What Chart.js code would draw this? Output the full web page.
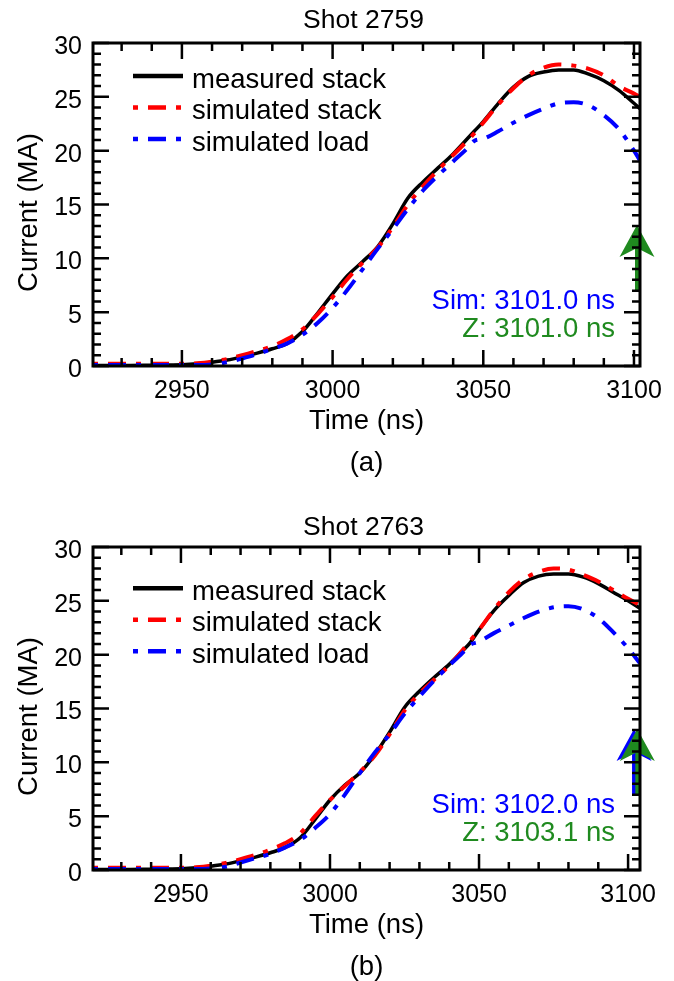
<!DOCTYPE html>
<html><head><meta charset="utf-8">
<script src="https://cdn.jsdelivr.net/npm/chart.js@4.4.1/dist/chart.umd.min.js"></script>
<style>
html,body{margin:0;padding:0;background:#fff;}
#wrap{width:674px;height:981px;position:relative;overflow:hidden;}
.box{position:absolute;left:0;width:674px;}
</style></head><body>
<div id="wrap">
<div class="box" style="top:0;height:504px"><canvas id="c1"></canvas></div>
<div class="box" style="top:504px;height:477px"><canvas id="c2"></canvas></div>
</div>
<script>
// ---------- data ----------
const xTickValues = [2950, 3000, 3050, 3100];
const yTickValues = [0, 5, 10, 15, 20, 25, 30];
const legendLabels = ['measured stack', 'simulated stack', 'simulated load'];

const time2759 = [2920.5,2930,2940,2950,2955,2960,2965,2970,2975,2980,2985,2990,2995,3000,3005,3010,3015,3020,3025,3030,3035,3040,3045,3047,3050,3055,3060,3065,3070,3075,3080,3085,3090,3095,3100,3102];
const measured2759 = [0.05,0.05,0.08,0.12,0.2,0.35,0.55,0.85,1.2,1.6,2.1,3.2,4.9,6.7,8.4,9.7,11.1,13.2,15.6,17.1,18.4,19.7,21.2,21.8,22.7,24.4,25.9,26.9,27.3,27.5,27.5,27.1,26.5,25.6,24.4,23.9];
const simStack2759 = [0.2,0.2,0.2,0.2,0.25,0.4,0.65,1.0,1.4,1.85,2.5,3.4,4.8,6.4,8.1,9.6,11.0,12.9,15.0,16.7,18.2,19.6,21.0,21.6,22.6,24.3,25.8,27.0,27.7,28.0,27.9,27.6,27.0,26.0,25.3,25.0];
const simLoad2759 = [0.1,0.1,0.1,0.1,0.1,0.15,0.35,0.7,1.1,1.6,2.1,2.9,4.0,5.4,7.1,9.0,10.9,12.7,14.6,16.3,17.7,19.0,20.3,20.9,21.1,21.8,22.6,23.3,23.9,24.4,24.5,24.2,23.3,22.0,20.0,19.1];

const time2763 = [2920.5,2930,2940,2950,2955,2960,2965,2970,2975,2980,2985,2990,2995,3000,3005,3010,3015,3020,3025,3030,3035,3040,3045,3047,3050,3055,3060,3065,3070,3075,3080,3085,3090,3095,3100,3104];
const measured2763 = [0.05,0.05,0.08,0.12,0.2,0.35,0.55,0.85,1.2,1.6,2.1,3.0,4.7,6.5,7.9,9.0,10.7,12.8,15.1,16.6,17.9,19.1,20.5,21.1,22.3,24.1,25.5,26.7,27.3,27.5,27.5,27.2,26.6,25.8,25.0,24.3];
const simStack2763 = [0.2,0.2,0.2,0.2,0.25,0.4,0.65,1.0,1.4,1.9,2.5,3.4,5.0,6.5,7.8,9.1,10.6,12.6,14.8,16.4,17.7,19.0,20.6,21.3,22.3,24.2,25.8,27.0,27.7,28.0,27.9,27.4,26.8,26.0,25.2,24.6];
const simLoad2763 = [0.1,0.1,0.1,0.1,0.1,0.15,0.3,0.7,1.1,1.5,2.1,2.8,3.9,5.2,7.0,9.0,10.9,12.6,14.5,16.1,17.6,19.0,20.3,20.9,21.2,22.0,22.7,23.4,24.0,24.4,24.5,24.2,23.4,22.1,20.6,19.2];

const arrowRange = [7.0, 13.1]; // current (MA) span of the timing arrows
// ---------- styles ----------
const FONT = '"Liberation Sans", Arial, Helvetica, sans-serif';
const COL = {meas:'#000000', stack:'#ff0000', load:'#0000ff', z:'#1f8a1f'};
const DASH = [5, 10, 18, 10];
Chart.defaults.font.family = FONT;
Chart.defaults.color = '#000';

const figurePlugin = {
  id: 'figure',
  afterDatasetsDraw(chart, args, o) {
    const ctx = chart.ctx, ca = chart.chartArea, xs = chart.scales.x, ys = chart.scales.y;
    o.arrows.forEach(a => {
      const x = xs.getPixelForValue(a.t);
      const yb = ys.getPixelForValue(arrowRange[0]);
      const yt = ys.getPixelForValue(arrowRange[1]);
      ctx.save();
      ctx.strokeStyle = a.color; ctx.fillStyle = a.color; ctx.lineWidth = 4;
      ctx.beginPath(); ctx.moveTo(x, yb); ctx.lineTo(x, yt + 20); ctx.stroke();
      ctx.beginPath();
      ctx.moveTo(x, yt); ctx.lineTo(x + 17.5, yt + 32); ctx.lineTo(x, yt + 23);
      ctx.lineTo(x - 17.5, yt + 32); ctx.closePath(); ctx.fill();
      ctx.restore();
    });
    ctx.save();
    ctx.strokeStyle = '#000'; ctx.lineWidth = 3;
    ctx.strokeRect(ca.left, ca.top, ca.right - ca.left, ca.bottom - ca.top);
    ctx.lineWidth = 2.5;
    ctx.beginPath();
    for (let t = Math.ceil(xs.min / 10) * 10; t <= xs.max; t += 10) {
      const px = xs.getPixelForValue(t);
      const L = (t % 50 === 0) ? 16 : 8;
      ctx.moveTo(px, ca.bottom); ctx.lineTo(px, ca.bottom - L);
      ctx.moveTo(px, ca.top); ctx.lineTo(px, ca.top + L);
    }
    for (let v = ys.min; v <= ys.max; v += 1) {
      const py = ys.getPixelForValue(v);
      const L = (v % 5 === 0) ? 16 : 8;
      ctx.moveTo(ca.left, py); ctx.lineTo(ca.left + L, py);
      ctx.moveTo(ca.right, py); ctx.lineTo(ca.right - L, py);
    }
    ctx.stroke();
    ctx.restore();
  },
  afterDraw(chart, args, o) {
    const ctx = chart.ctx, ca = chart.chartArea;
    ctx.save();
    ctx.fillStyle = '#000';
    ctx.textAlign = 'center'; ctx.textBaseline = 'alphabetic';
    const cx = (ca.left + ca.right) / 2;
    ctx.font = '26.5px ' + FONT;
    ctx.fillText(o.title, cx - 3, o.titleY);
    ctx.font = '27.5px ' + FONT;
    ctx.fillText('Time (ns)', cx, 429);
    ctx.fillText(o.caption, cx, 471);
    ctx.save();
    ctx.translate(37, (ca.top + ca.bottom) / 2 + 8);
    ctx.rotate(-Math.PI / 2);
    ctx.fillText('Current (MA)', 0, 0);
    ctx.restore();
    const styles = [
      {c: COL.meas, w: 4.5, d: []},
      {c: COL.stack, w: 4.5, d: DASH},
      {c: COL.load, w: 4.5, d: DASH}
    ];
    ctx.textAlign = 'left';
    legendLabels.forEach((lab, i) => {
      const y = o.legendY + i * 31.5;
      ctx.save();
      ctx.strokeStyle = styles[i].c; ctx.lineWidth = styles[i].w; ctx.setLineDash(styles[i].d);
      ctx.beginPath(); ctx.moveTo(133, y); ctx.lineTo(i === 0 ? 183 : 181, y); ctx.stroke();
      ctx.restore();
      ctx.fillStyle = '#000';
      ctx.fillText(lab, 192, y + 11.5);
    });
    ctx.textAlign = 'right';
    ctx.fillStyle = COL.load; ctx.fillText(o.simText, 615, 308.5);
    ctx.fillStyle = COL.z; ctx.fillText(o.zText, 615, 337);
    ctx.restore();
  }
};

function makeChart(id, cfg) {
  const h = document.getElementById(id).parentNode.clientHeight;
  const pts = vals => cfg.time.map((t, i) => ({x: t, y: vals[i]}));
  return new Chart(document.getElementById(id), {
    type: 'line',
    data: {
      datasets: [
        {label: legendLabels[2], data: pts(cfg.load), borderColor: COL.load, borderWidth: 4, borderDash: DASH, pointRadius: 0, cubicInterpolationMode: 'monotone', fill: false},
        {label: legendLabels[1], data: pts(cfg.stack), borderColor: COL.stack, borderWidth: 4, borderDash: DASH, pointRadius: 0, cubicInterpolationMode: 'monotone', fill: false},
        {label: legendLabels[0], data: pts(cfg.meas), borderColor: COL.meas, borderWidth: 3.5, pointRadius: 0, cubicInterpolationMode: 'monotone', fill: false}
      ]
    },
    options: {
      responsive: true, maintainAspectRatio: false, animation: false,
      layout: {padding: {top: 43, left: 0, right: 34, bottom: 0}},
      plugins: {
        legend: {display: false}, tooltip: {enabled: false}, title: {display: false},
        figure: cfg.fig
      },
      scales: {
        x: {
          type: 'linear', min: 2920.5, max: cfg.xmax,
          grid: {display: false, drawTicks: false}, border: {display: false},
          afterBuildTicks: s => { s.ticks = xTickValues.map(v => ({value: v})); },
          afterFit: s => { s.height = h - 366; },
          ticks: {font: {size: 25}, padding: 10, maxRotation: 0, autoSkip: false, callback: v => String(v)}
        },
        y: {
          min: 0, max: 30,
          grid: {display: false, drawTicks: false}, border: {display: false},
          afterBuildTicks: s => { s.ticks = yTickValues.map(v => ({value: v})); },
          afterFit: s => { s.width = 93; },
          ticks: {font: {size: 25}, padding: 11, labelOffset: 4, callback: v => String(v)}
        }
      }
    },
    plugins: [figurePlugin]
  });
}

makeChart('c1', {
  time: time2759, meas: measured2759, stack: simStack2759, load: simLoad2759, xmax: 3102,
  fig: {title: 'Shot 2759', titleY: 28.3, caption: '(a)', legendY: 76,
        simText: 'Sim: 3101.0 ns', zText: 'Z: 3101.0 ns',
        arrows: [{t: 3101.0, color: COL.z}]}
});
makeChart('c2', {
  time: time2763, meas: measured2763, stack: simStack2763, load: simLoad2763, xmax: 3104,
  fig: {title: 'Shot 2763', titleY: 31, caption: '(b)', legendY: 84.3,
        simText: 'Sim: 3102.0 ns', zText: 'Z: 3103.1 ns',
        arrows: [{t: 3102.0, color: COL.load}, {t: 3103.1, color: COL.z}]}
});
</script>
</body></html>
